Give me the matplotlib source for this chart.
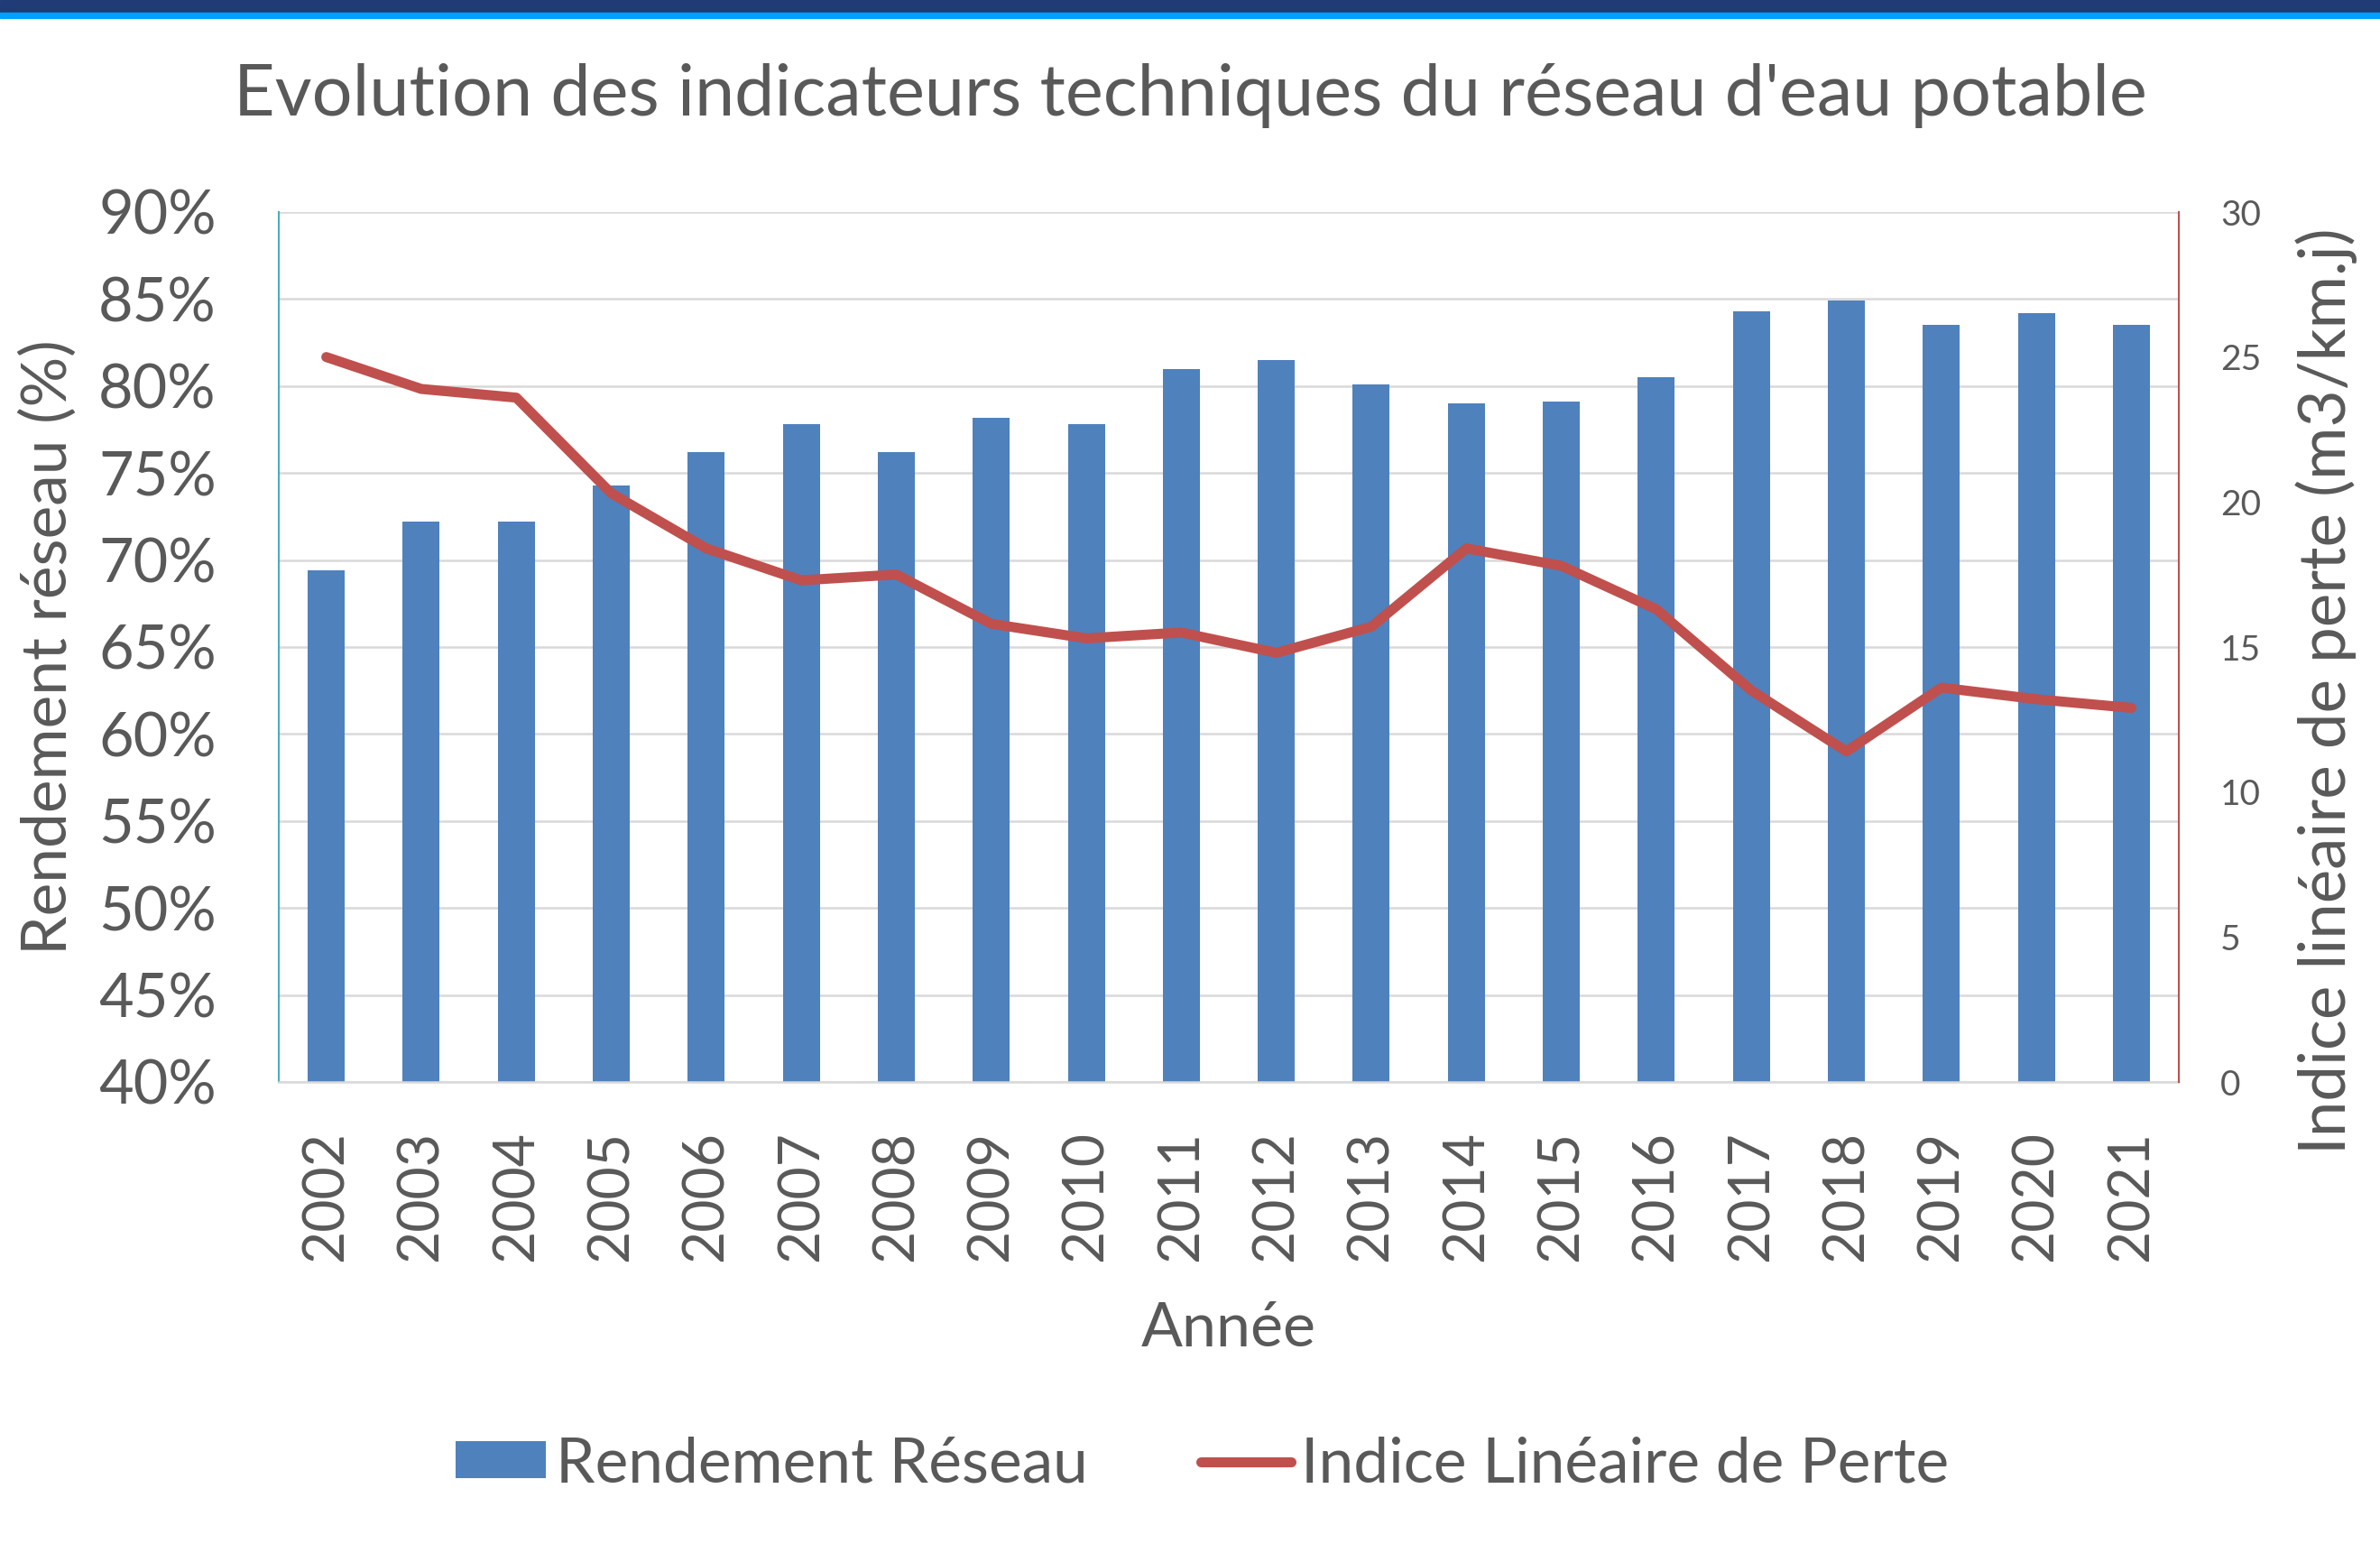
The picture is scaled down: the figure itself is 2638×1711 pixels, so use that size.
import matplotlib
matplotlib.use("Agg")
import matplotlib.pyplot as plt
from matplotlib.patches import Rectangle
from matplotlib.ticker import FuncFormatter, MultipleLocator

# data
years = [str(y) for y in range(2002, 2022)]
rendement = [69.4, 72.2, 72.2, 74.3, 76.2, 77.8, 76.2, 78.2, 77.8, 81.0,
             81.5, 80.1, 79.0, 79.1, 80.5, 84.3, 84.9, 83.5, 84.2, 83.5]
indice_perte = [25.0, 23.9, 23.6, 20.3, 18.4, 17.3, 17.5, 15.8, 15.3, 15.5,
                14.8, 15.7, 18.4, 17.8, 16.3, 13.5, 11.4, 13.6, 13.2, 12.9]

BLUE = "#4F81BD"
RED = "#C0504D"
TEXT = "#595959"
GRID = "#D9D9D9"

plt.rcParams["font.family"] = ["Lato", "DejaVu Sans"]

W, H = 2638, 1711
fig = plt.figure(figsize=(W / 100, H / 100), dpi=100)

# top banner
fig.patches.append(Rectangle((0, 1 - 14 / H), 1, 14 / H, transform=fig.transFigure,
                             color="#1F3C76", zorder=0))
fig.patches.append(Rectangle((0, 1 - 20 / H), 1, 6 / H, transform=fig.transFigure,
                             color="#00A0FF", zorder=0))

ax = fig.add_axes([309 / W, 1 - 1199 / H, (2415 - 309) / W, (1199 - 235) / H])
x = range(len(years))
ax.bar(x, rendement, width=0.39, color=BLUE, zorder=2, label="Rendement Réseau")
ax.set_ylim(40, 90)
ax.set_xlim(-0.5, len(years) - 0.5)
ax.yaxis.set_major_locator(MultipleLocator(5))
ax.yaxis.set_major_formatter(FuncFormatter(lambda v, p: f"{v:.0f}%"))
ax.grid(axis="y", color=GRID, lw=1.8, zorder=0)
ax.set_axisbelow(True)
ax.set_xticks(list(x))
ax.set_xticklabels(years, rotation=90)
ax.tick_params(axis="both", length=0, colors=TEXT)
ax.tick_params(axis="y", pad=50, labelsize=48)
ax.tick_params(axis="x", pad=39, labelsize=45)
for s in ["top", "right"]:
    ax.spines[s].set_visible(False)
ax.spines["left"].set_color("#4BACC6")
ax.spines["left"].set_linewidth(1.5)
ax.spines["bottom"].set_color(GRID)
ax.spines["bottom"].set_linewidth(1.8)

ax.set_ylabel("Rendement réseau (%)", fontsize=50, color=TEXT)
ax.yaxis.set_label_coords(-0.106, 0.5)
ax.set_xlabel("Année", fontsize=49, color=TEXT)
ax.xaxis.set_label_coords(0.5, -0.252)

ax2 = ax.twinx()
ax2.plot(x, indice_perte, color=RED, lw=8, solid_capstyle="round",
         solid_joinstyle="round", label="Indice Linéaire de Perte", zorder=3)
ax2.set_ylim(0, 30)
ax2.yaxis.set_major_locator(MultipleLocator(5))
ax2.tick_params(axis="y", length=0, labelsize=28, colors=TEXT, pad=33)
for s in ["top", "left", "bottom"]:
    ax2.spines[s].set_visible(False)
ax2.spines["right"].set_color(RED)
ax2.spines["right"].set_linewidth(1.5)
ax2.set_ylabel("Indice linéaire de perte (m3/km.j)", fontsize=51, color=TEXT)
ax2.yaxis.set_label_coords(1.0615, 0.45)

fig.text(0.5, 1 - 106 / H,
         "Evolution des indicateurs techniques du réseau d'eau potable",
         fontsize=57, color=TEXT, ha="center", va="center")

h1, l1 = ax.get_legend_handles_labels()
h2, l2 = ax2.get_legend_handles_labels()
fig.legend(h1 + h2, l1 + l2, loc="center", bbox_to_anchor=(0.505, 1 - 1623 / H),
           ncol=2, frameon=False, fontsize=50, labelcolor=TEXT,
           handlelength=1.45, handleheight=0.53, handletextpad=0.15,
           columnspacing=1.8)

fig.savefig("out.png", dpi=100)
